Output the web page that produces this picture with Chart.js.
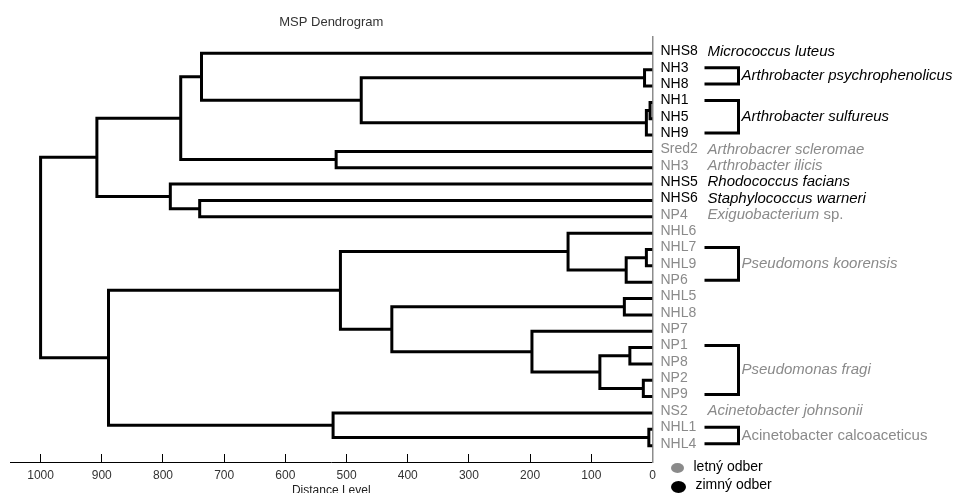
<!DOCTYPE html>
<html>
<head>
<meta charset="utf-8">
<title>MSP Dendrogram</title>
<script src="https://cdn.jsdelivr.net/npm/chart.js@4.4.0/dist/chart.umd.min.js"></script>
<style>
  html, body { margin: 0; padding: 0; background: #fff; }
  #wrap { width: 958px; height: 493px; }
</style>
</head>
<body>
<div id="wrap"><canvas id="dendro"></canvas></div>
<script>
  // Leaves, top to bottom
  const LEAF_CODES = ['NHS8', 'NH3', 'NH8', 'NH1', 'NH5', 'NH9', 'Sred2', 'NH3', 'NHS5', 'NHS6', 'NP4',
    'NHL6', 'NHL7', 'NHL9', 'NP6', 'NHL5', 'NHL8', 'NP7', 'NP1', 'NP8', 'NP2', 'NP9', 'NS2', 'NHL1', 'NHL4'];
  // true = letný odber (grey), false = zimný odber (black)
  const LEAF_SUMMER = [false, false, false, false, false, false, true, true, false, false, true,
    true, true, true, true, true, true, true, true, true, true, true, true, true, true];

  // Joins: ids 0-24 are leaves, 25+ are the joins below in order
  const JOIN_LEFT = [1, 3, 26, 25, 0, 6, 29, 9, 8, 31, 12, 35, 11, 15, 18, 20, 39, 17, 38, 37, 23, 22, 44, 34];
  const JOIN_RIGHT = [2, 4, 5, 27, 28, 7, 30, 10, 32, 33, 13, 14, 36, 16, 19, 21, 40, 41, 42, 43, 24, 45, 46, 47];
  const JOIN_HEIGHT = [13, 4, 10, 476, 737, 517, 771, 740, 788, 908, 10, 43, 138, 46, 37, 15, 86, 197, 426, 510, 6, 522, 889, 1000];

  // Species identified for each leaf range
  const SPECIES_NAMES = ['Micrococcus luteus', 'Arthrobacter psychrophenolicus', 'Arthrobacter sulfureus',
    'Arthrobacrer scleromae', 'Arthrobacter ilicis', 'Rhodococcus facians', 'Staphylococcus warneri',
    'Exiguobacterium sp.', 'Pseudomons koorensis', 'Pseudomonas fragi', 'Acinetobacter johnsonii',
    'Acinetobacter calcoaceticus'];
  const SPECIES_FIRST = [0, 1, 3, 6, 7, 8, 9, 10, 12, 18, 22, 23];
  const SPECIES_LAST = [0, 2, 5, 6, 7, 8, 9, 10, 14, 21, 22, 24];
  const SPECIES_ITALIC = [true, true, true, true, true, true, true, true, true, true, true, false];

  const DISTANCE_TICKS = [1000, 900, 800, 700, 600, 500, 400, 300, 200, 100, 0];
  const LEGEND_LABELS = ['letný odber', 'zimný odber'];

  const FONT = 'Arial, "Liberation Sans", sans-serif';
  const GREY = '#8a8a8a';

  // Build elbow segments for every join
  const nodeX = LEAF_CODES.map(() => 0);
  const nodeY = LEAF_CODES.map((c, i) => i);
  const datasets = JOIN_HEIGHT.map((h, k) => {
    const a = JOIN_LEFT[k];
    const b = JOIN_RIGHT[k];
    nodeX.push(h);
    nodeY.push((nodeY[a] + nodeY[b]) / 2);
    return {
      data: [
        { x: nodeX[a], y: nodeY[a] },
        { x: h, y: nodeY[a] },
        { x: h, y: nodeY[b] },
        { x: nodeX[b], y: nodeY[b] }
      ],
      showLine: true,
      borderColor: '#000',
      borderWidth: 3,
      borderJoinStyle: 'miter',
      pointRadius: 0,
      tension: 0,
      fill: false
    };
  });

  // Leaf codes, species names, brackets and the sampling legend
  const sideLabels = {
    id: 'sideLabels',
    afterDraw(chart) {
      const { ctx, chartArea, scales: { y } } = chart;
      const x0 = chartArea.right;
      const leafY = i => y.getPixelForValue(i) - 2;

      ctx.save();
      ctx.textBaseline = 'middle';
      ctx.textAlign = 'left';

      LEAF_CODES.forEach((code, i) => {
        ctx.font = '14px ' + FONT;
        ctx.fillStyle = LEAF_SUMMER[i] ? GREY : '#000';
        ctx.fillText(code, x0 + 8, leafY(i));
      });

      SPECIES_NAMES.forEach((name, k) => {
        const first = SPECIES_FIRST[k];
        const last = SPECIES_LAST[k];
        const colour = LEAF_SUMMER[first] ? GREY : '#000';
        let tx = x0 + 55;
        const ty = (leafY(first) + leafY(last)) / 2;

        if (last > first) {
          const bx1 = x0 + 52;
          const bx2 = x0 + 86;
          ctx.strokeStyle = '#000';
          ctx.lineWidth = 3;
          ctx.lineJoin = 'miter';
          ctx.beginPath();
          ctx.moveTo(bx1, leafY(first));
          ctx.lineTo(bx2, leafY(first));
          ctx.lineTo(bx2, leafY(last));
          ctx.lineTo(bx1, leafY(last));
          ctx.stroke();
          tx = bx2 + 3;
        }

        ctx.fillStyle = colour;
        let main = name;
        let tail = '';
        if (name.endsWith(' sp.')) {
          main = name.slice(0, -4);
          tail = ' sp.';
        }
        ctx.font = (SPECIES_ITALIC[k] ? 'italic ' : '') + '15px ' + FONT;
        ctx.fillText(main, tx, ty);
        if (tail) {
          const w = ctx.measureText(main).width;
          ctx.font = '15px ' + FONT;
          ctx.fillText(tail, tx + w, ty);
        }
      });

      // legend
      const lx = x0 + 25;
      const ly = chartArea.bottom + 6;
      ctx.fillStyle = GREY;
      ctx.beginPath();
      ctx.ellipse(lx, ly, 6.5, 5, 0, 0, Math.PI * 2);
      ctx.fill();
      ctx.fillStyle = '#000';
      ctx.beginPath();
      ctx.ellipse(lx + 1, ly + 19, 7.5, 6, 0, 0, Math.PI * 2);
      ctx.fill();
      ctx.font = '14px ' + FONT;
      ctx.fillText(LEGEND_LABELS[0], lx + 16, ly - 1);
      ctx.fillText(LEGEND_LABELS[1], lx + 18, ly + 17);

      ctx.restore();
    }
  };

  new Chart(document.getElementById('dendro'), {
    type: 'scatter',
    data: { datasets: datasets },
    plugins: [sideLabels],
    options: {
      responsive: true,
      maintainAspectRatio: false,
      animation: false,
      devicePixelRatio: 1,
      layout: { padding: { left: 10, right: 305.5, top: 0, bottom: -5.2 } },
      plugins: {
        legend: { display: false },
        tooltip: { enabled: false },
        title: {
          display: true,
          text: 'MSP Dendrogram',
          fullSize: false,
          color: '#333',
          font: { family: FONT, size: 13, weight: 'normal' },
          padding: { top: 14.5, bottom: 6.9 }
        }
      },
      scales: {
        x: {
          type: 'linear',
          position: 'bottom',
          reverse: true,
          min: 0,
          max: 1050,
          afterBuildTicks: scale => {
            scale.ticks = DISTANCE_TICKS.map(v => ({ value: v }));
          },
          grid: {
            drawOnChartArea: false,
            drawTicks: true,
            tickLength: -8,
            tickColor: '#000',
            tickWidth: 1
          },
          border: { display: true, color: '#000', width: 1 },
          ticks: {
            color: '#333',
            padding: 14,
            maxRotation: 0,
            autoSkip: false,
            font: { family: FONT, size: 12 },
            callback: v => String(v)
          },
          title: {
            display: true,
            text: 'Distance Level',
            color: '#222',
            font: { family: FONT, size: 12 },
            padding: { top: -12.6, bottom: 0 }
          }
        },
        y: {
          type: 'linear',
          position: 'right',
          reverse: true,
          min: -1,
          max: 25,
          grid: { display: false, drawTicks: false },
          border: { display: true, color: '#8c8c8c', width: 1.5 },
          ticks: { display: false }
        }
      }
    }
  });
</script>
</body>
</html>
